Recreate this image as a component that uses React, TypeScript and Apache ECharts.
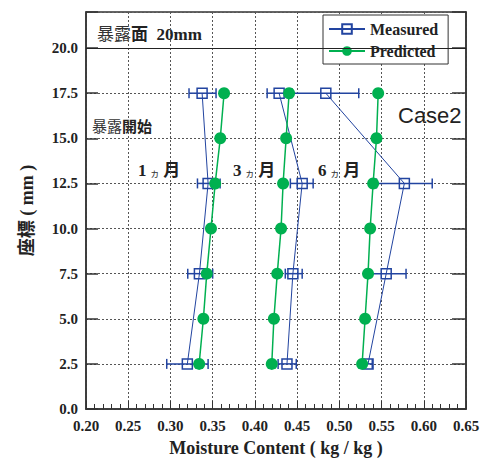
import React, { useEffect, useRef } from "react";
import * as echarts from "echarts";

const depthMeasured = [17.5, 12.5, 7.5, 2.5];
const depthPredicted = [17.5, 15, 12.5, 10, 7.5, 5, 2.5];

const m1 = [0.3375, 0.3446, 0.3343, 0.32];
const m1Low = [0.322, 0.332, 0.3205, 0.2956];
const m1High = [0.354, 0.3588, 0.35, 0.3446];
const p1 = [0.3635, 0.359, 0.353, 0.348, 0.343, 0.339, 0.334];

const m3 = [0.4287, 0.456, 0.445, 0.438];
const m3Low = [0.4145, 0.442, 0.436, 0.4275];
const m3High = [0.443, 0.469, 0.456, 0.449];
const p3 = [0.4405, 0.437, 0.4334, 0.431, 0.4265, 0.4225, 0.42];

const m6 = [0.484, 0.577, 0.5555, 0.534];
const m6Low = [0.444, 0.544, 0.532, 0.53];
const m6High = [0.523, 0.61, 0.579, 0.539];
const p6 = [0.546, 0.544, 0.54, 0.5365, 0.534, 0.5305, 0.527];

const BLUE = "#2244a0";
const GREEN = "#00b050";
const SERIF = "'Liberation Serif', 'Noto Sans CJK JP', serif";

export default function App() {
  const ref = useRef<HTMLDivElement>(null);
  useEffect(() => {
    if (!ref.current) return;
    const chart = echarts.init(ref.current, undefined, { renderer: "svg" });

    const measuredSeries = (vals: number[], lo: number[], hi: number[]) => [
      {
        type: "custom",
        name: "err",
        z: 2,
        renderItem: (params: any, api: any) => {
          const y = api.value(2);
          const a = api.coord([api.value(0), y]);
          const b = api.coord([api.value(1), y]);
          const st = { stroke: BLUE, lineWidth: 1.5 };
          return {
            type: "group",
            children: [
              { type: "line", shape: { x1: a[0], y1: a[1], x2: b[0], y2: b[1] }, style: st },
              { type: "line", shape: { x1: a[0], y1: a[1] - 5, x2: a[0], y2: a[1] + 5 }, style: st },
              { type: "line", shape: { x1: b[0], y1: b[1] - 5, x2: b[0], y2: b[1] + 5 }, style: st },
            ],
          };
        },
        encode: { x: [0, 1], y: 2 },
        data: depthMeasured.map((d, i) => [lo[i], hi[i], d]),
      },
      {
        type: "line",
        name: "Measured",
        z: 3,
        data: depthMeasured.map((d, i) => [vals[i], d]),
        symbol: "rect",
        symbolSize: 10,
        lineStyle: { color: BLUE, width: 1 },
        itemStyle: { color: "rgba(255,255,255,0)", borderColor: BLUE, borderWidth: 1.5 },
      },
    ];
    const predictedSeries = (vals: number[]) => ({
      type: "line",
      name: "Predicted",
      z: 4,
      data: depthPredicted.map((d, i) => [vals[i], d]),
      symbol: "circle",
      symbolSize: 12,
      lineStyle: { color: GREEN, width: 1.5 },
      itemStyle: { color: GREEN },
    });

    const gridLine = { show: true, lineStyle: { color: "#555", type: [2, 2] as any, width: 1 } };

    chart.setOption({
      animation: false,
      grid: { left: 86, right: 20, top: 12, bottom: 54, show: true, borderColor: "#333", borderWidth: 1.5, containLabel: false },
      legend: {
        left: 323,
        top: 15,
        orient: "vertical",
        data: ["Measured", "Predicted"],
        backgroundColor: "#fff",
        borderColor: "#333",
        borderWidth: 1,
        padding: [6, 10, 5, 5],
        itemGap: 6,
        itemWidth: 36,
        itemHeight: 12,
        textStyle: { fontFamily: SERIF, fontWeight: "bold", fontSize: 16, color: "#222" },
      },
      xAxis: {
        type: "value",
        min: 0.2,
        max: 0.65,
        interval: 0.05,
        name: "Moisture Content ( kg / kg )",
        nameLocation: "middle",
        nameGap: 30,
        nameTextStyle: { fontFamily: SERIF, fontWeight: "bold", fontSize: 18, color: "#222" },
        axisLine: { show: true, lineStyle: { color: "#333", width: 1.5 } },
        axisTick: { show: true, inside: true, length: 8, lineStyle: { color: "#333" } },
        minorTick: { show: true, splitNumber: 5, length: 5, lineStyle: { color: "#333" } },
        axisLabel: {
          formatter: (v: number) => v.toFixed(2),
          fontFamily: SERIF,
          fontWeight: "bold",
          fontSize: 15,
          color: "#222",
          margin: 9,
        },
        splitLine: gridLine,
      },
      yAxis: [
        {
          type: "value",
          min: 0,
          max: 22,
          interval: 2.5,
          name: "座標 ( mm )",
          nameLocation: "middle",
          nameGap: 50,
          nameRotate: 90,
          nameTextStyle: { fontFamily: SERIF, fontWeight: "bold", fontSize: 18, color: "#222" },
          axisLine: { show: true, lineStyle: { color: "#333", width: 1.5 } },
          axisTick: { show: true, inside: true, length: 12, lineStyle: { color: "#333", width: 1.5 } },
          axisLabel: {
            formatter: (v: number) => (v > 20.01 ? "" : v.toFixed(1)),
            fontFamily: SERIF,
            fontWeight: "bold",
            fontSize: 15,
            color: "#222",
            margin: 8,
          },
          splitLine: gridLine,
        },
        {
          type: "value",
          min: 0,
          max: 22,
          interval: 2.5,
          position: "right",
          axisLine: { show: true, lineStyle: { color: "#333", width: 1.5 } },
          axisTick: { show: true, inside: true, length: 14, lineStyle: { color: "#333", width: 1.5 } },
          axisLabel: { show: false },
          splitLine: { show: false },
        },
      ],
      series: [
        ...measuredSeries(m1, m1Low, m1High),
        ...measuredSeries(m3, m3Low, m3High),
        ...measuredSeries(m6, m6Low, m6High),
        predictedSeries(p1),
        predictedSeries(p3),
        {
          ...predictedSeries(p6),
          markLine: {
            silent: true,
            symbol: "none",
            label: { show: false },
            lineStyle: { color: "#222", type: "solid", width: 1 },
            data: [{ yAxis: 20 }],
          },
        },
      ],
      graphic: [
        {
          type: "text",
          left: 97,
          top: 26,
          style: {
            text: "{n|暴露}{b|面  20mm}",
            rich: {
              n: { fontFamily: SERIF, fontSize: 17, fill: "#333" },
              b: { fontFamily: SERIF, fontSize: 17, fontWeight: "bold", fill: "#222" },
            },
          },
        },
        {
          type: "text",
          left: 92,
          top: 119,
          style: {
            text: "{n|暴露}{b|開始}",
            rich: {
              n: { fontFamily: SERIF, fontSize: 15, fill: "#333" },
              b: { fontFamily: SERIF, fontSize: 15, fontWeight: "bold", fill: "#222" },
            },
          },
        },
        ...[
          { t: "1", x: 138 },
          { t: "3", x: 233 },
          { t: "6", x: 318 },
        ].map((o) => ({
          type: "text",
          left: o.x,
          top: 162,
          style: {
            text: `{b|${o.t}} {s|ヵ} {b|月}`,
            rich: {
              b: { fontFamily: SERIF, fontSize: 17, fontWeight: "bold", fill: "#222" },
              s: { fontFamily: SERIF, fontSize: 10, fill: "#333", verticalAlign: "bottom" },
            },
          },
        })),
        {
          type: "text",
          left: 398,
          top: 104,
          style: {
            text: "Case2",
            fontFamily: "'Liberation Sans', Arial, sans-serif",
            fontSize: 22,
            fill: "#222",
          },
        },
      ],
    });
    return () => chart.dispose();
  }, []);
  return <div ref={ref} style={{ position: "absolute", left: 0, top: 0, width: 486, height: 463 }} />;
}
